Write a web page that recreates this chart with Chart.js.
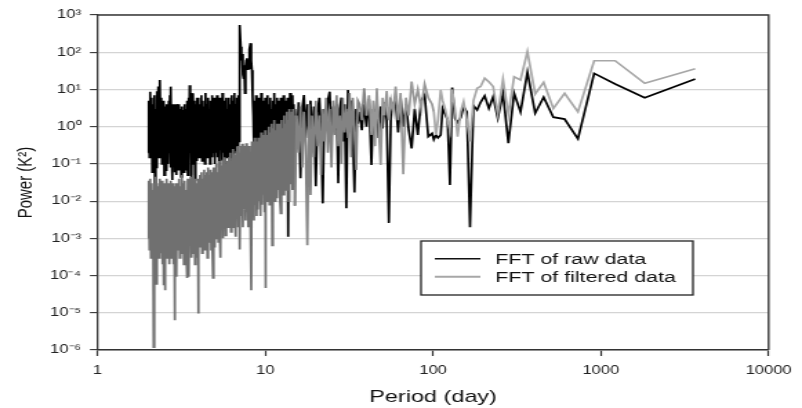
<!DOCTYPE html>
<html><head><meta charset="utf-8">
<script src="https://cdn.jsdelivr.net/npm/chart.js@4.4.1/dist/chart.umd.min.js"></script>
<style>
html,body{margin:0;padding:0;background:#fff;overflow:hidden;width:802px;height:408px}
#wrap{position:absolute;left:0;top:0;width:581px;height:408px;transform:scaleX(1.38038);transform-origin:0 0}
canvas{display:block}
</style></head><body>
<div id="wrap"><canvas id="c" width="581" height="408"></canvas></div>
<script>
// Period (day) of each spectral point, shared by both series
const periods = [
2.00,2.02,2.04,2.06,2.08,2.10,2.12,2.14,2.16,2.18,2.20,2.22,2.24,2.26,2.28,2.30,2.32,2.34,2.36,2.38,2.40,2.42,2.44,2.46,2.48,2.50,2.52,2.54,2.56,2.58,2.60,2.62,2.64,2.66,2.68,2.70,2.72,2.74,2.76,2.78,2.80,2.82,2.84,2.86,2.88,2.90,2.92,2.94,2.96,2.98,
3.00,3.03,3.06,3.09,3.12,3.15,3.18,3.21,3.24,3.27,3.30,3.33,3.36,3.39,3.42,3.45,3.48,3.51,3.54,3.57,3.60,3.63,3.66,3.69,3.72,3.75,3.78,3.81,3.84,3.87,3.90,3.93,3.96,3.99,
4.00,4.04,4.08,4.12,4.16,4.20,4.24,4.28,4.32,4.36,4.40,4.44,4.48,4.52,4.56,4.60,4.64,4.68,4.72,4.76,4.80,4.84,4.88,4.92,4.96,
5.00,5.05,5.10,5.15,5.20,5.25,5.30,5.35,5.40,5.45,5.50,5.55,5.60,5.65,5.70,5.75,5.80,5.85,5.90,5.95,
6.00,6.06,6.12,6.18,6.24,6.30,6.36,6.42,6.48,6.54,6.60,6.66,6.72,6.78,6.84,6.90,6.96,
7.00,7.07,7.14,7.21,7.28,7.35,7.42,7.49,7.56,7.63,7.70,7.77,7.84,7.91,7.98,
8.00,8.08,8.16,8.24,8.32,8.40,8.48,8.56,8.64,8.72,8.80,8.88,8.96,
9.00,9.09,9.18,9.27,9.36,9.45,9.54,9.63,9.72,9.81,9.90,9.99,
10.0,10.1,10.2,10.3,10.4,10.5,10.6,10.7,10.8,10.9,11.0,11.1,11.2,11.3,11.4,11.5,11.6,11.7,11.8,11.9,
12.00,12.12,12.24,12.36,12.48,12.60,12.72,12.84,12.96,13.08,13.20,13.32,13.44,13.56,13.68,13.80,13.92,14.04,14.16,14.28,14.40,14.52,14.64,14.76,14.88,
15.0,15.4,15.8,16.2,16.6,17.0,17.4,17.8,18.2,18.6,19.0,19.5,20.0,20.5,21.0,21.5,22.0,22.5,23.0,23.6,24.2,24.8,25.4,26.0,26.6,27.2,27.8,28.4,29.0,29.7,30.4,31.1,31.8,32.5,33.2,34.0,34.8,35.6,
36.5,37.6,38.8,40.1,41.5,42.9,44.0,45.1,46.2,47.4,48.7,50.0,51.4,52.9,54.5,56.2,57.9,59.8,61.9,64.0,66.4,68.9,71.6,74.5,77.7,81.1,84.9,89.0,93.6,98.6,
101,104,107,111,114,118,122,126,130,135,140,146,152,159,166,174,183,192,203,215,228,243,261,281,304,332,365,406,456,521,608,730,912,1217,1825,3650
];

// Power (K^2) of the FFT of the raw data
const rawPower = [
0.2,5,0.15,8.7,0.3,6,0.06,4,0.1,7,0.013,3,0.08,9,0.2,12,0.15,6,18,0.3,6,0.1,4,0.2,5,0.05,3.5,0.15,0.068,4,0.3,4,0.1,5,0.2,7,0.08,11.9,0.25,4,0.037,3,0.15,4,0.06,3.5,0.2,3,0.05,4,
3.5,0.07,4,0.1,3,0.045,3.5,0.08,2.8,0.06,4,0.1,3,0.07,5,0.05,6,0.1,13,0.2,8,0.02,6,0.15,7.9,0.1,5,0.037,4,0.15,6,0.12,5,0.2,
6,0.15,4,0.2,7,0.12,5,0.3,3.5,0.1,8,0.2,4,0.15,6,0.25,3,0.1,5,0.3,7,0.15,4,0.2,6,
0.1,5,0.2,7,0.15,4,0.08,6,0.25,3.5,0.12,8,0.2,5,0.1,4,0.3,6,0.15,3,
0.2,6,0.1,4,0.25,7,0.15,5,0.3,8,0.2,4,0.35,6,0.3,7,0.4,
30,540,140,60,90,25,20,45,7.9,40,60,69,35,50,37,
80,120,175,60,33,6.4,2,0.2,5,0.15,7,0.3,4,
0.2,6,0.3,4,0.15,8,0.25,5,0.4,3.5,0.2,6,
0.3,5,0.15,7,0.4,4,0.2,6,0.35,3,0.15,5,0.3,8,0.25,4,0.4,6,0.2,3.5,
0.3,5,0.4,6,0.2,4,0.5,7,0.3,5,0.4,3,0.25,6,0.0011,4,0.35,8,0.5,5,0.3,7,0.6,4,0.5,
3.0,0.3,4.5,0.041,3.0,7.1,0.5,4.0,0.8,5.0,0.4,3.5,0.025,2.5,6.0,0.6,0.0087,3.0,1.0,5.0,8.7,0.5,3.5,0.8,4.0,0.03,3.0,6.0,0.4,4.0,0.0064,9.7,1.5,5.0,0.6,0.017,3.0,1.2,
2.5,0.8,4.0,1.0,5.5,0.093,3.0,1.2,6.0,0.5,3.5,0.9,4.5,1.5,0.0026,4.7,3.5,5.0,0.7,6.0,1.0,4.0,0.8,0.26,3.0,0.6,5.0,7.1,0.54,0.66,
0.45,0.6,0.5,0.6,3.1,2.2,1.5,0.027,11.2,1.68,1.3,1.74,3.45,2.5,0.002,3.7,2.8,4.5,6.7,3.1,6.4,1.7,7.9,0.36,7.9,2.5,29,2.3,6.2,1.8,1.6,0.47,27,14,6.0,19
];

// Power (K^2) of the FFT of the filtered data
const filteredPower = [
0.001,0.035,0.0005,0.04,0.0003,0.03,0.0008,0.02,1.2e-6,0.03,0.0004,0.045,6e-5,0.03,0.0006,0.025,0.0003,0.04,0.001,0.02,0.0004,0.035,0.0002,0.03,5.5e-5,0.02,4e-5,0.03,0.0005,0.04,0.0003,0.025,0.0008,0.03,0.0002,0.02,0.0006,0.035,0.0003,0.02,0.0005,0.03,0.0002,0.025,6.3e-6,0.02,0.0004,0.03,9.3e-5,0.02,
0.03,0.0005,0.04,0.0003,0.025,0.001,0.05,0.0004,0.03,0.0002,0.035,0.0006,0.02,0.0003,8.6e-5,0.04,0.0005,9.3e-5,0.03,0.0008,0.045,0.0003,0.03,0.001,0.05,0.0004,0.035,0.0002,0.04,0.0006,0.025,0.0003,0.03,9.6e-6,
0.04,0.0006,0.05,0.001,0.06,0.0004,0.04,0.0015,0.07,0.0005,0.05,0.001,0.06,0.0003,0.08,0.0008,0.05,0.0015,0.07,0.0005,0.06,0.001,8.6e-5,0.08,0.0006,
0.08,0.001,0.1,0.002,0.06,0.0008,0.12,0.0015,0.0003,0.09,0.002,0.13,0.001,0.08,0.003,0.15,0.0012,0.1,0.002,0.12,
0.002,0.15,0.003,0.2,0.0015,0.12,0.004,0.25,0.002,0.18,0.003,0.0011,0.22,0.004,0.3,0.002,0.2,
0.003,0.0005,0.3,0.004,0.35,0.002,0.25,0.006,0.3,0.003,0.36,0.005,0.28,0.002,0.3,
0.004,0.3,0.002,4e-5,0.4,0.006,0.3,0.003,0.5,0.008,0.35,0.004,0.4,
0.006,0.5,0.01,0.4,0.004,0.7,0.008,0.5,0.015,0.6,0.005,0.8,
4.6e-5,0.8,0.01,0.6,0.02,1.0,0.008,0.7,0.03,1.2,0.00065,0.9,0.015,1.5,0.01,0.8,0.025,1.2,0.012,1.0,
0.02,1.2,0.01,0.0047,1.5,0.03,0.9,0.015,2.0,0.04,1.2,0.02,2.5,0.05,1.5,0.01,3.0,0.03,1.8,0.05,2.5,0.02,3.0,0.06,2.0,
0.0075,2.0,0.2,3.5,0.08,2.5,0.3,0.00065,4.0,0.0145,2.0,0.15,5.0,0.3,2.0,0.05,3.0,0.4,6.0,0.2,3.0,0.08,5.0,0.6,7.0,0.3,2.0,0.1,6.0,0.7,3.0,0.5,8.0,0.15,6.0,1.0,0.069,5.0,
4,1.5,10.8,2.0,7.0,0.6,5.0,0.3,10.8,1.0,0.093,6.0,2.0,9.0,1.5,5.0,2.5,11.9,1.5,8.0,0.053,6.0,2.0,16.2,4.0,10,3,14,6,4,
2.5,0.6,1.5,9.7,5,3,1.5,0.8,10,3,0.54,2.5,4.7,1.5,0.4,5,10.8,12,20,16,12,2.2,19,2.1,22,18,104,7.6,15.6,3.1,7.9,2.5,59,59,14.7,36
];

const seriesLabels = ['FFT of raw data', 'FFT of filtered data'];
const xTickValues = [1, 10, 100, 1000, 10000];
const xTickLabels = ['1', '10', '100', '1000', '10000'];
const yTickValues = [1e-6, 1e-5, 1e-4, 1e-3, 1e-2, 1e-1, 1e0, 1e1, 1e2, 1e3];
const yTickLabels = ['10\u207B\u2076','10\u207B\u2075','10\u207B\u2074','10\u207B\u00B3','10\u207B\u00B2','10\u207B\u00B9','10\u2070','10\u00B9','10\u00B2','10\u00B3'];
const xTitle = 'Period (day)';
const yTitle = 'Power (K\u00B2)';

const FONT = '"Liberation Sans", Arial, sans-serif';
const toPoints = arr => periods.map((p, i) => ({x: p, y: arr[i]}));
const grayFor = p => p < 15 ? '#707070' : p < 40 ? '#838383' : p < 100 ? '#979797' : '#a7a7a7';

const framePlugin = {
  id: 'frame',
  afterDatasetsDraw(chart) {
    const {ctx, chartArea: a} = chart;
    ctx.save();
    ctx.strokeStyle = '#3a3a3a';
    ctx.lineWidth = 1.4;
    ctx.beginPath();
    ctx.moveTo(a.left, a.top); ctx.lineTo(a.right, a.top); ctx.lineTo(a.right, a.bottom);
    ctx.stroke();
    ctx.restore();
  }
};

const legendPlugin = {
  id: 'boxLegend',
  afterDraw(chart) {
    const {ctx} = chart;
    const bx = 305, by = 241, bw = 197, bh = 54;
    ctx.save();
    ctx.fillStyle = '#fff';
    ctx.fillRect(bx, by, bw, bh);
    ctx.strokeStyle = '#222';
    ctx.lineWidth = 1.3;
    ctx.strokeRect(bx, by, bw, bh);
    const rows = [
      {y: 258.7, color: '#111', w: 1.5, text: chart.data.datasets[0].label},
      {y: 276.7, color: '#a7a7a7', w: 2, text: chart.data.datasets[1].label}
    ];
    ctx.font = '15.5px ' + FONT;
    ctx.fillStyle = '#111';
    ctx.textBaseline = 'alphabetic';
    ctx.textAlign = 'left';
    rows.forEach(r => {
      ctx.strokeStyle = r.color; ctx.lineWidth = r.w;
      ctx.beginPath(); ctx.moveTo(315, r.y); ctx.lineTo(348, r.y); ctx.stroke();
      ctx.fillText(r.text, 358.7, r.y + 4.8);
    });
    ctx.restore();
  }
};

new Chart(document.getElementById('c'), {
  type: 'line',
  data: {
    datasets: [
      {label: seriesLabels[0], data: toPoints(rawPower), borderColor: '#000', borderWidth: 1.7, order: 1},
      {label: seriesLabels[1], data: toPoints(filteredPower), borderColor: '#a7a7a7', borderWidth: 1.7, order: 0,
       segment: {borderColor: c => grayFor(c.p0.parsed.x)}}
    ]
  },
  options: {
    responsive: false,
    devicePixelRatio: 1,
    animation: false,
    parsing: true,
    layout: {padding: {top: 15, right: 19.4, left: 0, bottom: 0}},
    elements: {point: {radius: 0, hoverRadius: 0}, line: {tension: 0}},
    plugins: {legend: {display: false}, tooltip: {enabled: false}},
    events: [],
    scales: {
      x: {
        type: 'logarithmic', min: 1, max: 10000,
        afterBuildTicks: s => { s.ticks = xTickValues.map(v => ({value: v})); },
        afterFit: s => { s.height = 58; },
        ticks: {
          autoSkip: false, maxRotation: 0, padding: 7.5, color: '#222',
          font: {family: FONT, size: 12},
          callback: v => { const i = xTickValues.indexOf(v); return i >= 0 ? xTickLabels[i] : ''; }
        },
        grid: {drawOnChartArea: false, drawTicks: true, tickLength: 6, tickColor: '#333', tickWidth: 1.2},
        border: {display: true, color: '#333', width: 1.6},
        title: {display: true, text: xTitle, color: '#111', font: {family: FONT, size: 17}, padding: {top: 0, bottom: 0}}
      },
      y: {
        type: 'logarithmic', min: 1e-6, max: 1e3,
        afterBuildTicks: s => { s.ticks = yTickValues.map(v => ({value: v})); },
        afterFit: s => { s.width = 70.65; },
        ticks: {
          autoSkip: false, padding: 6.5, color: '#222',
          font: {family: FONT, size: 12},
          callback: v => { const i = yTickValues.findIndex(t => Math.abs(Math.log10(t) - Math.log10(v)) < 1e-6); return i >= 0 ? yTickLabels[i] : ''; }
        },
        grid: {color: '#d4d4d4', lineWidth: 1.2, drawTicks: true, tickLength: 5.5, tickColor: '#333', tickWidth: 1.1},
        border: {display: true, color: '#333', width: 1.3},
        title: {display: true, text: yTitle, color: '#111', font: {family: FONT, size: 15}, padding: {top: 10, bottom: 0}}
      }
    }
  },
  plugins: [framePlugin, legendPlugin]
});
</script>
</body></html>
